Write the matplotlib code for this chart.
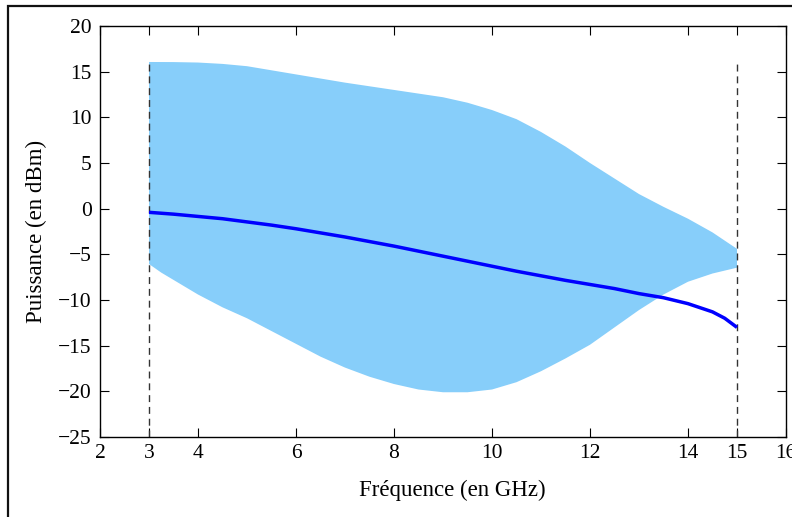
import numpy as np
import matplotlib
matplotlib.use("Agg")
import matplotlib.pyplot as plt
from matplotlib.patches import Rectangle

# Data
upper_x = [3.0, 3.5, 4.0, 4.5, 5.0, 5.5, 6.0, 6.5, 7.0, 7.5, 8.0, 8.5, 9.0, 9.5, 10.0, 10.5, 11.0,
           11.5, 12.0, 12.5, 13.0, 13.5, 14.0, 14.5, 15.0]
upper_y = [16.06, 16.05, 16.0, 15.85, 15.6, 15.15, 14.7, 14.25, 13.8, 13.4, 13.0, 12.6, 12.2, 11.6, 10.8, 9.8, 8.4,
           6.8, 5.0, 3.3, 1.6, 0.2, -1.1, -2.6, -4.4]

lower_x = [3.0, 3.25, 3.5, 4.0, 4.5, 5.0, 5.5, 6.0, 6.5, 7.0, 7.5, 8.0, 8.5, 9.0, 9.5, 10.0, 10.5, 11.0,
           11.5, 12.0, 12.5, 13.0, 13.5, 14.0, 14.5, 15.0]
lower_y = [-6.06, -7.0, -7.8, -9.4, -10.8, -12.0, -13.4, -14.8, -16.2, -17.4, -18.4, -19.2, -19.8, -20.1, -20.1, -19.8,
           -19.0, -17.8, -16.4, -14.9, -13.0, -11.1, -9.4, -8.0, -7.1, -6.46]

line_x = [3.0, 3.5, 4.0, 4.5, 5.0, 5.5, 6.0, 6.5, 7.0, 7.5, 8.0, 8.5, 9.0, 9.5, 10.0, 10.5, 11.0,
          11.5, 12.0, 12.5, 13.0, 13.5, 14.0, 14.5, 14.75, 15.0]
line_y = [-0.4, -0.6, -0.85, -1.1, -1.45, -1.8, -2.2, -2.65, -3.1, -3.6, -4.1, -4.65, -5.2, -5.75, -6.3, -6.85, -7.35,
          -7.85, -8.3, -8.75, -9.3, -9.75, -10.4, -11.3, -12.0, -13.0]

band_edges = [3, 15]
xticks = [2, 3, 4, 6, 8, 10, 12, 14, 15, 16]
yticks = [-25, -20, -15, -10, -5, 0, 5, 10, 15, 20]

plt.rcParams['font.family'] = ['Liberation Serif', 'DejaVu Serif']

fig = plt.figure(figsize=(7.92, 5.17), dpi=100)
ax = fig.add_axes([100/792, 1-437/517, 686/792, 411/517])

poly_x = np.concatenate([upper_x, lower_x[::-1]])
poly_y = np.concatenate([upper_y, lower_y[::-1]])
ax.fill(poly_x, poly_y, color='#87CEFA', lw=0, zorder=1)

ax.plot(line_x, line_y, color='#0000FF', lw=2.5, zorder=3, solid_capstyle='butt',
        solid_joinstyle='round')

for xe in band_edges:
    ax.plot([xe, xe], [-25, 16.1], color='#333333', lw=1.0, ls=(0, (5, 3.5)), zorder=2)

ax.set_xlim(2, 16)
ax.set_ylim(-25, 20)
ax.set_xticks(xticks)
ax.set_yticks(yticks)
ax.tick_params(direction='in', length=6.5, width=0.8, top=True, right=True,
               labelsize=15.5, colors='black')
ax.tick_params(axis='x', pad=5)
ax.tick_params(axis='y', pad=6)
for s in ax.spines.values():
    s.set_linewidth(1.0)
    s.set_color('black')

ax.set_xlabel('Fréquence (en GHz)', fontsize=16.5)
ax.set_ylabel('Puissance (en dBm)', fontsize=16.5, labelpad=8)
ax.xaxis.set_label_coords(0.514, -0.105)

fig.patches.append(Rectangle((8/792, -0.2), 1.5, 1 - 6/517 + 0.2, transform=fig.transFigure,
                             fill=False, edgecolor='#111111', lw=1.6, zorder=10))

fig.savefig('out.png', dpi=100)
